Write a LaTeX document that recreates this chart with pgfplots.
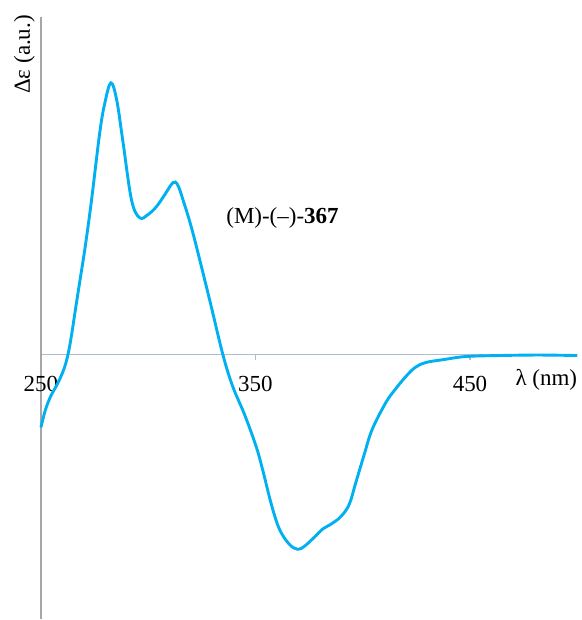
\documentclass[border=0pt]{standalone}
\usepackage{pgfplots}
\pgfplotsset{compat=1.18}
\usepackage{fontspec}
\setmainfont{Liberation Serif}
\definecolor{curve}{HTML}{00B0F0}
\definecolor{yax}{HTML}{A6A6A6}
\definecolor{xax}{HTML}{B0BCD0}
\begin{document}
\fontsize{23bp}{27bp}\selectfont
\begin{tikzpicture}
\begin{axis}[
  scale only axis,
  width=537bp, height=603bp,
  xmin=250, xmax=500,
  ymin=-26.5, ymax=33.8,
  axis x line=middle,
  axis y line=left,
  axis line style={-},
  x axis line style={draw=xax, line width=1.6bp},
  y axis line style={draw=yax, line width=1.6bp},
  xtick={250,350,450},
  ytick=\empty,
  hide obscured x ticks=false,
  tick align=outside,
  major tick length=5bp,
  xtick style={draw=xax, line width=1.2bp},
  xticklabel style={font=\fontsize{23bp}{27bp}\selectfont, yshift=-9bp},
  /pgf/number format/assume math mode=true,
  clip=false,
]
\addplot[curve, line width=2.9bp, smooth, tension=0.6] coordinates {
(250,-7.3) (252.0,-5.6) (254.5,-4.2) (258.0,-2.8) (260.8,-1.4) (262.7,0.1) (264.3,2.0) (266.0,4.4) (268.1,7.3)
(270.7,10.9) (273.6,15.5) (277.4,22.2) (279.8,25.2) (282.6,27.2) (285.3,25.5)
(288.1,21.5) (292.2,15.5) (296.0,13.7) (299.8,14.0) (303.8,14.8) (307.7,16.0)
(311.5,17.2) (313.7,17.0) (316.2,15.5) (320.8,12.2) (328.6,5.5) (334.8,0)
(339.4,-3.2) (344.9,-6.0) (350.3,-9.2) (353.3,-11.5) (357.4,-15.0) (361.2,-17.5)
(365.8,-19.0) (369.7,-19.5) (372.8,-19.2) (377.4,-18.3) (381.2,-17.5) (385.8,-16.9)
(389.9,-16.2) (393.7,-15.0) (396.8,-12.8) (400.7,-10.0) (404.4,-7.5) (410.8,-4.8)
(415.1,-3.5) (420.1,-2.2) (424.4,-1.3) (429.4,-0.8) (437.9,-0.5) (448.0,-0.2)
(463.5,-0.1) (482.1,-0.05) (500,-0.1)
};
\node[anchor=center, font=\fontsize{23bp}{27bp}\selectfont] at (axis cs:362.6,13.7) {(M)-(–)-\textbf{367}};
\node[rotate=90, anchor=south east, font=\fontsize{23bp}{27bp}\selectfont, inner sep=0pt] at ([xshift=-6bp,yshift=2bp]rel axis cs:0,1) {Δε (a.u.)};
\node[anchor=north east, font=\fontsize{23bp}{27bp}\selectfont, inner sep=0pt] at ([yshift=-15bp]axis cs:500,0) {λ (nm)};
\end{axis}
\path ([xshift=-41bp]current axis.south west) rectangle ([xshift=4bp,yshift=17bp]current axis.north east);
\end{tikzpicture}
\end{document}
